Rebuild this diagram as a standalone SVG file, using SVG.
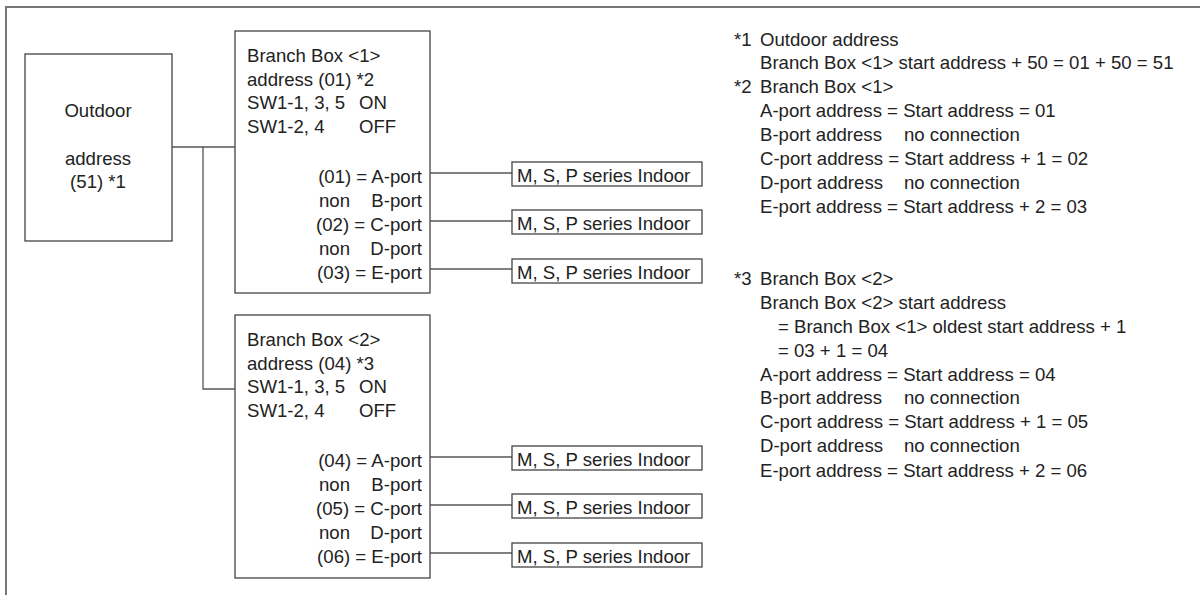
<svg xmlns="http://www.w3.org/2000/svg" width="1200" height="595" viewBox="0 0 1200 595">
<style>
text{font-family:"Liberation Sans",Arial,sans-serif;font-size:18.6px;fill:#222}
.box{fill:#fff;stroke:#444;stroke-width:1.3}
.ln{fill:none;stroke:#555;stroke-width:1.3}
.frame{fill:none;stroke:#777;stroke-width:2}
.r{text-anchor:end}
.c{text-anchor:middle}
</style>
<rect width="1200" height="595" fill="#fff"/>
<path class="frame" d="M6,595 V7 H1200"/>
<g id="connectors">
<path class="ln" d="M172,147 H235"/>
<path class="ln" d="M203,147 V389 H235"/>
<path class="ln" d="M430,173 H512 M430,221 H512 M430,269 H512"/>
<path class="ln" d="M430,457 H512 M430,505 H512 M430,553 H512"/>
</g>
<g id="outdoor">
<rect class="box" x="25" y="54" width="147" height="187"/>
<text class="c" x="98" y="117">Outdoor</text>
<text class="c" x="98" y="165">address</text>
<text class="c" x="98" y="188">(51) *1</text>
</g>
<g id="branchbox1">
<rect class="box" x="235" y="31" width="195" height="262"/>
<text x="247" y="62">Branch Box &lt;1&gt;</text>
<text x="247" y="86">address (01) *2</text>
<text x="247" y="109">SW1-1, 3, 5</text><text x="359" y="109">ON</text>
<text x="247" y="133">SW1-2, 4</text><text x="359" y="133">OFF</text>
<text class="r" x="422" y="183">(01) = A-port</text>
<text x="319" y="207">non</text><text class="r" x="422" y="207">B-port</text>
<text class="r" x="422" y="231">(02) = C-port</text>
<text x="319" y="255">non</text><text class="r" x="422" y="255">D-port</text>
<text class="r" x="422" y="279">(03) = E-port</text>
</g>
<g id="branchbox2">
<rect class="box" x="235" y="315" width="195" height="263"/>
<text x="247" y="346">Branch Box &lt;2&gt;</text>
<text x="247" y="370">address (04) *3</text>
<text x="247" y="393">SW1-1, 3, 5</text><text x="359" y="393">ON</text>
<text x="247" y="417">SW1-2, 4</text><text x="359" y="417">OFF</text>
<text class="r" x="422" y="467">(04) = A-port</text>
<text x="319" y="491">non</text><text class="r" x="422" y="491">B-port</text>
<text class="r" x="422" y="515">(05) = C-port</text>
<text x="319" y="539">non</text><text class="r" x="422" y="539">D-port</text>
<text class="r" x="422" y="563">(06) = E-port</text>
</g>
<g id="indoor1"><rect class="box" x="512" y="162" width="190" height="24"/><text x="517" y="182">M, S, P series Indoor</text></g>
<g id="indoor2"><rect class="box" x="512" y="210" width="190" height="24"/><text x="517" y="230">M, S, P series Indoor</text></g>
<g id="indoor3"><rect class="box" x="512" y="259" width="190" height="24"/><text x="517" y="279">M, S, P series Indoor</text></g>
<g id="indoor4"><rect class="box" x="512" y="446" width="190" height="24"/><text x="517" y="466">M, S, P series Indoor</text></g>
<g id="indoor5"><rect class="box" x="512" y="494" width="190" height="24"/><text x="517" y="514">M, S, P series Indoor</text></g>
<g id="indoor6"><rect class="box" x="512" y="543" width="190" height="24"/><text x="517" y="563">M, S, P series Indoor</text></g>
<g id="notes">
<text x="734" y="46">*1</text><text x="760" y="46">Outdoor address</text>
<text x="760" y="69">Branch Box &lt;1&gt; start address + 50 = 01 + 50 = 51</text>
<text x="734" y="93">*2</text><text x="760" y="93">Branch Box &lt;1&gt;</text>
<text x="760" y="117">A-port address = Start address = 01</text>
<text x="760" y="141">B-port address</text><text x="904" y="141">no connection</text>
<text x="760" y="165">C-port address = Start address + 1 = 02</text>
<text x="760" y="189">D-port address</text><text x="904" y="189">no connection</text>
<text x="760" y="213">E-port address = Start address + 2 = 03</text>
<text x="734" y="285">*3</text><text x="760" y="285">Branch Box &lt;2&gt;</text>
<text x="760" y="309">Branch Box &lt;2&gt; start address</text>
<text x="778" y="333">= Branch Box &lt;1&gt; oldest start address + 1</text>
<text x="778" y="357">= 03 + 1 = 04</text>
<text x="760" y="381">A-port address = Start address = 04</text>
<text x="760" y="404">B-port address</text><text x="904" y="404">no connection</text>
<text x="760" y="428">C-port address = Start address + 1 = 05</text>
<text x="760" y="452">D-port address</text><text x="904" y="452">no connection</text>
<text x="760" y="477">E-port address = Start address + 2 = 06</text>
</g>
</svg>
